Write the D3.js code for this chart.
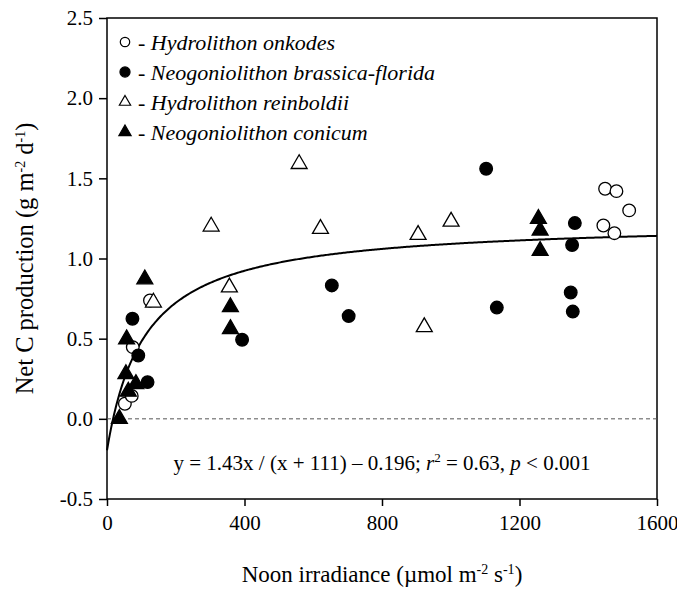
<!DOCTYPE html>
<html>
<head>
<meta charset="utf-8">
<script src="https://cdn.jsdelivr.net/npm/d3@7"></script>
<style>
  body { margin: 0; background: #fff; }
</style>
</head>
<body>
<div id="chart"></div>
<script>
// irradiance (umol m-2 s-1) and net C production (g m-2 d-1)
const onkodes = [
  [52, 0.094], [72, 0.143], [75, 0.447], [125, 0.738],
  [1449, 1.435], [1482, 1.42], [1519, 1.30], [1444, 1.206], [1476, 1.158]
];
const brassica = [
  [74, 0.624], [91, 0.395], [118, 0.229], [393, 0.493], [654, 0.832], [703, 0.641],
  [1103, 1.56], [1134, 0.694], [1349, 0.788], [1353, 1.084], [1355, 0.669], [1361, 1.221]
];
const reinboldii = [
  [135, 0.726], [303, 1.20], [356, 0.82], [559, 1.59], [621, 1.185],
  [905, 1.148], [923, 0.572], [1001, 1.23]
];
const conicum = [
  [36, 0.0], [55, 0.279], [57, 0.497], [62, 0.17], [84, 0.218], [110, 0.871],
  [359, 0.697], [359, 0.561], [1255, 1.248], [1260, 1.175], [1260, 1.048]
];
const xTicks = [0, 400, 800, 1200, 1600];
const yTicks = [-0.5, 0.0, 0.5, 1.0, 1.5, 2.0, 2.5];
const speciesNames = ['Hydrolithon onkodes', 'Neogoniolithon brassica-florida', 'Hydrolithon reinboldii', 'Neogoniolithon conicum'];

// fitted curve y = 1.43x / (x + 111) - 0.196
const fit = (x) => 1.43 * x / (x + 111) - 0.196;

const serif = '"Liberation Serif", "DejaVu Serif", serif';
const width = 677;
const height = 590;
const margin = { top: 18, right: 20, bottom: 91, left: 107 };

const svg = d3.select('#chart')
  .append('svg')
  .attr('width', width)
  .attr('height', height)
  .attr('font-family', serif);

const x = d3.scaleLinear().domain([0, 1600]).range([margin.left, width - margin.right]);
const y = d3.scaleLinear().domain([-0.5, 2.5]).range([height - margin.bottom, margin.top]);

// frame
svg.append('rect')
  .attr('x', x(0))
  .attr('y', y(2.5))
  .attr('width', x(1600) - x(0))
  .attr('height', y(-0.5) - y(2.5))
  .attr('fill', 'none')
  .attr('stroke', '#000')
  .attr('stroke-width', 1.5);

const xAxis = svg.append('g')
  .attr('transform', `translate(0,${y(-0.5)})`)
  .call(d3.axisBottom(x).tickValues(xTicks).tickSize(7).tickPadding(9).tickFormat((d) => String(d)));

const yAxis = svg.append('g')
  .attr('transform', `translate(${x(0)},0)`)
  .call(d3.axisLeft(y).tickValues(yTicks).tickSize(8).tickPadding(6).tickFormat((d) => d.toFixed(1)));

[xAxis, yAxis].forEach((g) => {
  g.attr('font-family', serif).attr('font-size', 21);
  g.select('.domain').remove();
  g.selectAll('line').attr('stroke', '#000').attr('stroke-width', 1.5);
  g.selectAll('text').attr('fill', '#000');
});

// zero line
svg.append('line')
  .attr('x1', x(0))
  .attr('x2', x(1600))
  .attr('y1', y(0))
  .attr('y2', y(0))
  .attr('stroke', '#555')
  .attr('stroke-width', 1)
  .attr('stroke-dasharray', '4,3');

// fitted curve
const curveX = d3.range(0, 1601, 4);
svg.append('path')
  .datum(curveX)
  .attr('fill', 'none')
  .attr('stroke', '#000')
  .attr('stroke-width', 2)
  .attr('d', d3.line().x((d) => x(d)).y((d) => y(fit(d))));

// points
const circleSym = d3.symbol().type(d3.symbolCircle).size(125);
const triSym = d3.symbol().type(d3.symbolTriangle).size(110);

const series = [
  { data: onkodes, sym: circleSym, fill: '#fff' },
  { data: brassica, sym: circleSym, fill: '#000' },
  { data: reinboldii, sym: triSym, fill: '#fff' },
  { data: conicum, sym: triSym, fill: '#000' }
];

series.forEach((s) => {
  svg.append('g')
    .selectAll('path')
    .data(s.data)
    .join('path')
    .attr('transform', (d) => `translate(${x(d[0])},${y(d[1])})`)
    .attr('d', s.sym())
    .attr('fill', s.fill)
    .attr('stroke', '#000')
    .attr('stroke-width', 1.3);
});

// legend
const legend = svg.append('g');
const legendSyms = [
  d3.symbol().type(d3.symbolCircle).size(70),
  d3.symbol().type(d3.symbolCircle).size(80),
  d3.symbol().type(d3.symbolTriangle).size(55),
  d3.symbol().type(d3.symbolTriangle).size(65)
];
speciesNames.forEach((name, i) => {
  const ly = 42 + i * 30;
  legend.append('path')
    .attr('transform', `translate(125,${ly})`)
    .attr('d', legendSyms[i]())
    .attr('fill', series[i].fill)
    .attr('stroke', '#000')
    .attr('stroke-width', 1.2);
  const t = legend.append('text')
    .attr('x', 138)
    .attr('y', ly + 8)
    .attr('font-size', 22);
  t.append('tspan').text('- ');
  t.append('tspan').attr('font-style', 'italic').text(name);
});

// equation
const eq = svg.append('text')
  .attr('x', x(800))
  .attr('y', 470)
  .attr('text-anchor', 'middle')
  .attr('font-size', 21);
eq.append('tspan').text('y = 1.43x / (x + 111) \u2013 0.196; ');
eq.append('tspan').attr('font-style', 'italic').text('r');
eq.append('tspan').attr('dy', -8).attr('font-size', 13).text('2');
eq.append('tspan').attr('dy', 8).text(' = 0.63, ');
eq.append('tspan').attr('font-style', 'italic').text('p');
eq.append('tspan').text(' < 0.001');

// axis titles
const xt = svg.append('text')
  .attr('x', x(800))
  .attr('y', 582)
  .attr('text-anchor', 'middle')
  .attr('font-size', 23);
xt.append('tspan').text('Noon irradiance (\u00b5mol m');
xt.append('tspan').attr('dy', -8).attr('font-size', 14).text('-2');
xt.append('tspan').attr('dy', 8).text(' s');
xt.append('tspan').attr('dy', -8).attr('font-size', 14).text('-1');
xt.append('tspan').attr('dy', 8).text(')');

const yt = svg.append('text')
  .attr('transform', `translate(33,${(y(2.5) + y(-0.5)) / 2}) rotate(-90)`)
  .attr('text-anchor', 'middle')
  .attr('font-size', 24.5);
yt.append('tspan').text('Net C production (g m');
yt.append('tspan').attr('dy', -8).attr('font-size', 14).text('-2');
yt.append('tspan').attr('dy', 8).text(' d');
yt.append('tspan').attr('dy', -8).attr('font-size', 14).text('-1');
yt.append('tspan').attr('dy', 8).text(')');
</script>
</body>
</html>
